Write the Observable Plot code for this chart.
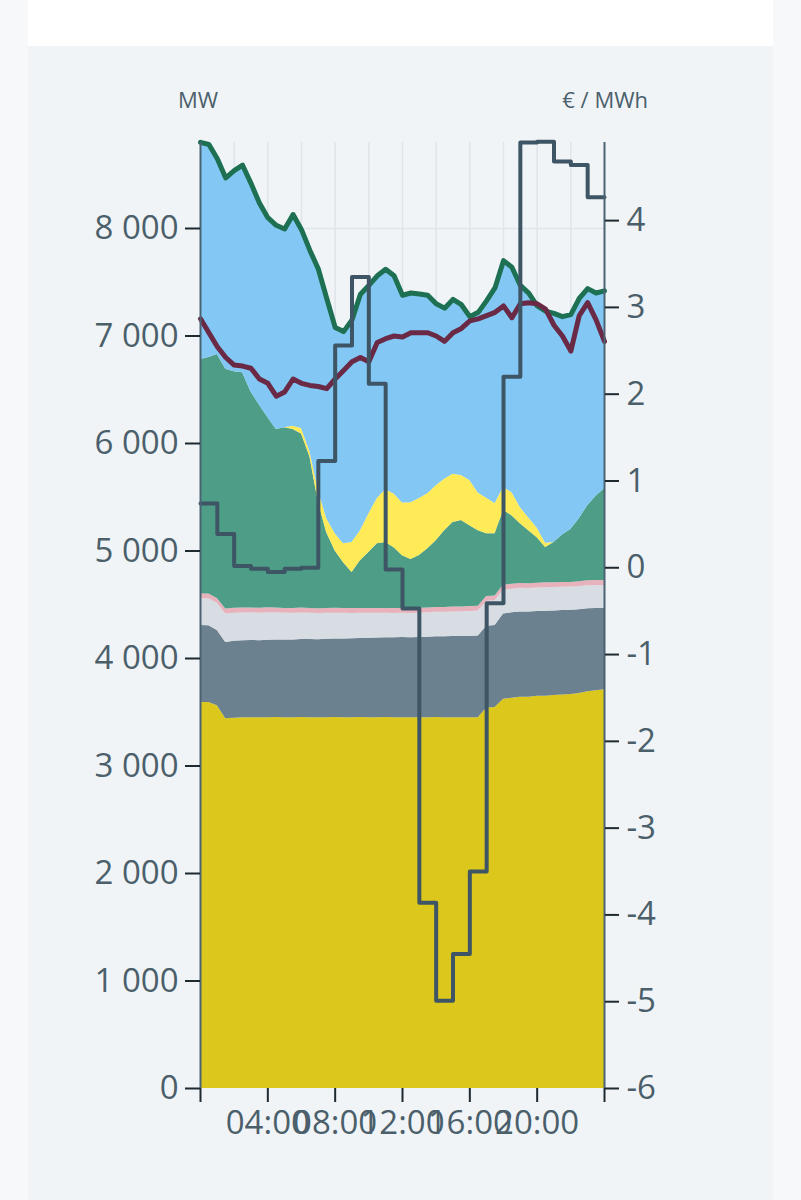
<!DOCTYPE html>
<html>
<head>
<meta charset="utf-8">
<script src="https://cdn.jsdelivr.net/npm/d3@7"></script>
<script src="https://cdn.jsdelivr.net/npm/@observablehq/plot@0.6"></script>
<style>
  html, body { margin: 0; padding: 0; }
  body { width: 801px; height: 1200px; background: #f6f8fa; position: relative; overflow: hidden; font-family: "Open Sans", sans-serif; }
  #header { position: absolute; left: 28px; top: 0; width: 745px; height: 46px; background: #ffffff; }
  #panel { position: absolute; left: 28px; top: 46px; width: 745px; height: 1154px; background: #f0f4f7; }
  #chart { position: absolute; left: 0; top: 0; }
  .unit { position: absolute; top: 84px; font-size: 22px; line-height: 30px; color: #4b5f6b; white-space: nowrap; }
</style>
</head>
<body>
<div id="header"></div>
<div id="panel"></div>
<div id="chart"></div>
<div class="unit" style="left:178px;">MW</div>
<div class="unit" style="right:153px;">€ / MWh</div>
<script>
// ---- data (half-hourly, MW) ----
const times = ["00:00","00:30","01:00","01:30","02:00","02:30","03:00","03:30","04:00","04:30",
  "05:00","05:30","06:00","06:30","07:00","07:30","08:00","08:30","09:00","09:30",
  "10:00","10:30","11:00","11:30","12:00","12:30","13:00","13:30","14:00","14:30",
  "15:00","15:30","16:00","16:30","17:00","17:30","18:00","18:30","19:00","19:30",
  "20:00","20:30","21:00","21:30","22:00","22:30","23:00","23:30","24:00"];

const nuclear = [3590,3590,3560,3440,3445,3448,3450,3448,3450,3452,
  3450,3450,3452,3450,3448,3450,3452,3450,3450,3452,
  3450,3450,3452,3450,3450,3448,3450,3450,3452,3450,
  3450,3448,3450,3450,3540,3545,3620,3630,3640,3640,
  3648,3650,3655,3660,3665,3675,3690,3700,3710];

const slate = [716,715,700,710,715,716,718,718,720,720,
  722,722,725,726,727,728,730,732,733,735,
  738,740,740,742,745,745,746,748,750,752,
  754,756,758,760,760,762,795,795,793,792,
  790,790,788,786,783,778,772,765,755];

const lightGray = [250,250,255,265,262,260,258,256,255,253,
  250,248,246,245,243,242,240,238,236,234,
  232,230,228,227,225,225,226,227,228,228,
  229,230,230,232,232,230,222,220,220,219,
  218,218,217,217,216,216,215,215,215];

const pink = [45,46,44,45,46,45,44,45,46,45,
  44,45,46,45,45,44,45,46,45,44,
  45,45,46,45,44,45,46,45,45,44,
  45,46,45,45,44,45,46,45,45,44,
  45,46,45,45,44,45,46,45,45];

const teal = [2180,2200,2270,2230,2200,2190,2010,1890,1770,1660,
  1680,1665,1620,1410,990,705,533,425,336,444,
  520,603,613,567,492,457,490,552,621,714,
  786,803,753,702,584,579,693,639,556,493,
  423,328,375,442,491,586,698,785,855];

const solar = [0,0,0,0,0,0,0,0,0,0,
  0,30,50,50,110,130,160,176,280,280,
  360,420,490,500,490,530,530,510,510,480,
  450,420,420,350,330,280,215,215,150,120,
  90,40,0,0,0,0,0,0,0];

const blue = [2020,1980,1820,1780,1870,1930,1940,1880,1860,1900,
  1850,1970,1850,1870,2060,2050,1920,1974,2070,2200,
  2125,2072,2052,2029,1933,1950,1903,1848,1694,1591,
  1626,1588,1524,1681,1839,2009,2110,2096,2066,2091,
  2066,2159,2130,2030,2000,2050,2020,1890,1840];

const load = [7160,7030,6900,6800,6730,6720,6700,6600,6560,6440,
  6480,6600,6560,6540,6530,6510,6600,6680,6760,6800,
  6760,6940,6975,7000,6990,7030,7030,7030,7000,6950,
  7030,7070,7140,7160,7190,7220,7280,7170,7300,7310,
  7300,7250,7100,7000,6860,7190,7310,7150,6950];

// hourly price, €/MWh (last entry closes the final hour)
const priceTimes = ["00:00","01:00","02:00","03:00","04:00","05:00","06:00","07:00","08:00","09:00",
  "10:00","11:00","12:00","13:00","14:00","15:00","16:00","17:00","18:00","19:00",
  "20:00","21:00","22:00","23:00","24:00"];
const price = [0.74,0.39,0.02,-0.01,-0.05,-0.01,0.00,1.23,2.56,3.35,
  2.12,-0.02,-0.47,-3.86,-4.99,-4.45,-3.50,-0.41,2.20,4.90,
  4.91,4.68,4.64,4.27,4.27];

const mwTicks = [0,1000,2000,3000,4000,5000,6000,7000,8000];
const priceTicks = [-6,-5,-4,-3,-2,-1,0,1,2,3,4];
const hourTicks = [0,4,8,12,16,20,24];
const gridHours = [2,4,6,8,10,12,14,16,18,20,22];

const layerNames = ["nuclear","slate","lightGray","pink","teal","solar","blue"];
const layerValues = [nuclear, slate, lightGray, pink, teal, solar, blue];
const layerColors = ["#dcc81c","#6c818f","#d7dde2","#e7b2bc","#4e9e87","#ffea58","#83c7f5"];

// ---- build tables ----
const toHours = s => { const [h, m] = s.split(":").map(Number); return h + m / 60; };
const long = [];
layerNames.forEach((name, i) => {
  times.forEach((t, j) => long.push({t: toHours(t), layer: name, value: layerValues[i][j]}));
});
const loadRows = times.map((t, j) => ({t: toHours(t), value: load[j]}));
const priceRows = priceTimes.map((t, j) => ({t: toHours(t), price: price[j]}));

const yMax = 8800;
const priceDomain = [-6, 4.9];
const toMW = d3.scaleLinear(priceDomain, [0, yMax]);

const loc = d3.formatLocale({decimal: ",", thousands: " ", grouping: [3], currency: ["", " €"]});
const fmtMW = loc.format(",d");
const pad = h => String(h).padStart(2, "0");

const textColor = "#4b5f6b";
const tickColor = "#1f2a30";

const chart = Plot.plot({
  width: 801,
  height: 1200,
  marginLeft: 200,
  marginRight: 197,
  marginTop: 142,
  marginBottom: 112,
  style: {background: "transparent", color: textColor, fontFamily: "'Open Sans', sans-serif", fontSize: "33px", overflow: "visible"},
  x: {domain: [0, 24]},
  y: {domain: [0, yMax]},
  color: {domain: layerNames, range: layerColors},
  marks: [
    Plot.gridX(gridHours, {stroke: "#dfe5ea", strokeOpacity: 1, strokeWidth: 1.5}),
    Plot.gridY(mwTicks.slice(1), {stroke: "#dfe5ea", strokeOpacity: 1, strokeWidth: 1.5}),
    Plot.areaY(long, Plot.stackY({x: "t", y: "value", z: "layer", fill: "layer", order: layerNames})),
    Plot.lineY(long, Plot.groupX({y: "sum"}, {x: "t", y: "value", stroke: "#1d7152", strokeWidth: 5, strokeLinejoin: "round"})),
    Plot.lineY(loadRows, {x: "t", y: "value", stroke: "#6a2a45", strokeWidth: 5, strokeLinejoin: "round"}),
    Plot.lineY(priceRows, {x: "t", y: d => toMW(d.price), curve: "step-after", stroke: "#3d5564", strokeWidth: 4}),
    Plot.ruleX([0, 24], {stroke: "#4a6272", strokeWidth: 2}),
    Plot.axisY(mwTicks, {anchor: "left", tickSize: 15, tickPadding: 7, stroke: tickColor, strokeWidth: 2, tickFormat: fmtMW, label: null}),
    Plot.axisY(priceTicks.map(p => toMW(p)), {anchor: "right", tickSize: 14, tickPadding: 8, stroke: tickColor, strokeWidth: 2, tickFormat: mw => String(Math.round(toMW.invert(mw))), label: null}),
    Plot.axisX(hourTicks, {anchor: "bottom", tickSize: 14, tickPadding: 8, stroke: tickColor, strokeWidth: 2, tickFormat: h => (h === 0 || h === 24) ? "" : pad(h) + ":00", label: null})
  ]
});
document.getElementById("chart").appendChild(chart);
</script>
</body>
</html>
